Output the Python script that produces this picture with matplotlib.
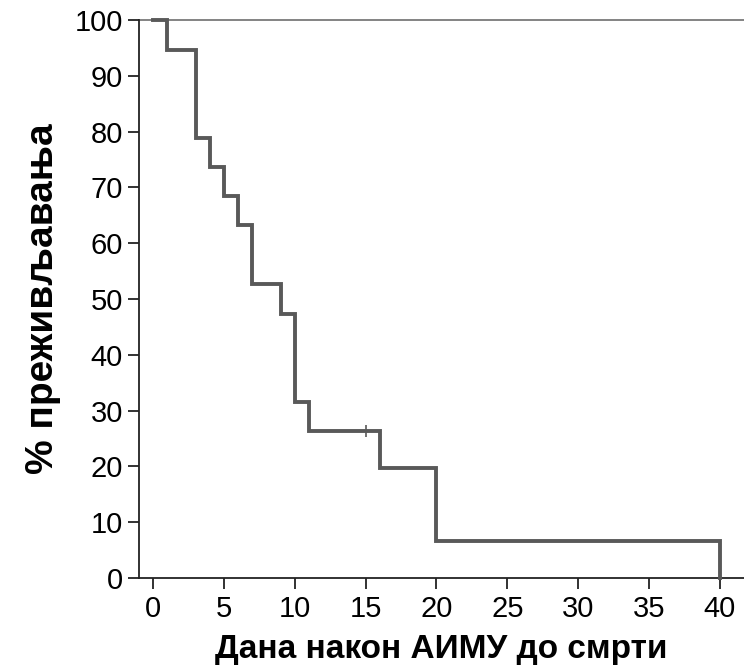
import matplotlib
matplotlib.use("Agg")
import matplotlib.pyplot as plt

plt.rcParams['font.family'] = ['Liberation Sans', 'DejaVu Sans']

# Kaplan-Meier estimate, days after AIMU until death
days = [0, 1, 3, 4, 5, 6, 7, 9, 10, 11, 16, 20, 40]
survival = [100, 94.7, 78.9, 73.7, 68.4, 63.2, 52.6, 47.4, 31.6, 26.3, 19.7, 6.6, 0]
censored_days = [15]
censored_surv = [26.3]

xticks = [0, 5, 10, 15, 20, 25, 30, 35, 40]
yticks = [0, 10, 20, 30, 40, 50, 60, 70, 80, 90, 100]

fig = plt.figure(figsize=(7.44, 6.68), dpi=100)
ax = fig.add_axes([139 / 744, 1 - 578 / 668, (744 - 139) / 744, (578 - 20) / 668])

curve_col = '#595959'
ax.axhline(100, color='#7a7a7a', lw=1.3, clip_on=False, zorder=1)
ax.step(days, survival, where='post', color=curve_col, lw=2.8,
        solid_joinstyle='miter', clip_on=False, zorder=3)
ax.plot(censored_days, censored_surv, marker='|', color=curve_col,
        ms=9, mew=1.2, ls='none', zorder=4)

ax.set_xlim(-0.99, 41.7)
ax.set_ylim(0, 100)
ax.set_xticks(xticks)
ax.set_yticks(yticks)

for side in ['top', 'right']:
    ax.spines[side].set_visible(False)
for side in ['left', 'bottom']:
    ax.spines[side].set_linewidth(1.3)
    ax.spines[side].set_color('#222222')

ax.tick_params(axis='both', length=8, width=1.3, color='#222222',
               labelsize=21)
ax.tick_params(axis='x', pad=4)
ax.tick_params(axis='y', pad=3.5)

ax.set_xlabel('Дана након АИМУ до смрти', fontsize=24, fontweight='bold',
              labelpad=8)
ax.set_ylabel('% преживљавања', fontsize=28, fontweight='bold', labelpad=10)

fig.savefig('out.png', dpi=100)
